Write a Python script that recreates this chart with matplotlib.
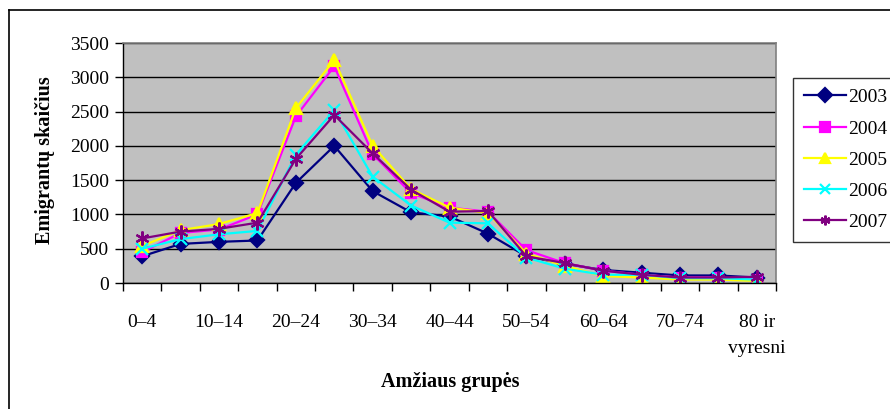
import matplotlib
matplotlib.use("Agg")
import matplotlib.pyplot as plt
from matplotlib.lines import Line2D

plt.rcParams['font.family'] = ['Liberation Serif', 'DejaVu Serif']

age_groups = ['0–4', '5–9', '10–14', '15–19', '20–24', '25–29', '30–34', '35–39',
              '40–44', '45–49', '50–54', '55–59', '60–64', '65–69', '70–74',
              '75–79', '80 ir\nvyresni']

y2003 = [390, 570, 600, 620, 1460, 2000, 1340, 1030, 970, 720, 390, 280, 190, 150, 110, 110, 80]
y2004 = [450, 730, 780, 1000, 2430, 3160, 1880, 1310, 1100, 1040, 480, 290, 180, 120, 80, 80, 50]
y2005 = [540, 770, 860, 1020, 2550, 3250, 2000, 1370, 1100, 1020, 430, 250, 100, 80, 50, 50, 30]
y2006 = [500, 640, 710, 760, 1870, 2520, 1550, 1130, 880, 870, 370, 210, 120, 120, 70, 70, 50]
y2007 = [650, 750, 790, 880, 1810, 2450, 1890, 1360, 1040, 1050, 390, 290, 180, 120, 80, 80, 90]

years = ['2003', '2004', '2005', '2006', '2007']
series = [y2003, y2004, y2005, y2006, y2007]
colors = ['#000080', '#FF00FF', '#FFFF00', '#00FFFF', '#800080']
markers = ['D', 's', '^', 'x', (6, 2, 0)]
msizes = [7, 7, 9, 9, 10]

fig = plt.figure(figsize=(8.9, 4.09), dpi=100)
ax = fig.add_axes([123 / 890, 1 - 283 / 409, 653 / 890, 240 / 409])
ax.set_facecolor('#C0C0C0')

x = list(range(len(age_groups)))
handles = []
for ys, c, m, ms, lab in zip(series, colors, markers, msizes, years):
    h, = ax.plot(x, ys, color=c, marker=m, markersize=ms, linewidth=1.6,
                 markeredgewidth=1.6, label=lab)
    handles.append(h)

ax.set_xlim(-0.5, len(age_groups) - 0.5)
ax.set_ylim(0, 3500)
ax.set_yticks(range(0, 3501, 500))
ax.yaxis.grid(True, color='black', linewidth=1)
ax.set_axisbelow(True)

# ticks between categories, labels on every other category
ax.set_xticks([i - 0.5 for i in range(len(age_groups) + 1)])
ax.set_xticklabels([])
ax.set_xticks(x[::2], minor=True)
ax.set_xticklabels(age_groups[::2], minor=True, fontsize=14, linespacing=1.75,
                   verticalalignment='top')
ax.tick_params(axis='x', which='minor', length=0, pad=22)
ax.tick_params(axis='x', which='major', length=6, direction='out', width=1)
ax.tick_params(axis='y', length=6, direction='out', width=1, labelsize=14, pad=4)

for s in ['top', 'right']:
    ax.spines[s].set_color('#808080')
    ax.spines[s].set_linewidth(1.2)
for s in ['left', 'bottom']:
    ax.spines[s].set_color('black')
    ax.spines[s].set_linewidth(1)

fig.text(45 / 890, 1 - 160 / 409, 'Emigrantų skaičius', rotation=90, fontsize=14.5,
         fontweight='bold', ha='center', va='center')
fig.text(450 / 890, 1 - 382 / 409, 'Amžiaus grupės', fontsize=14.5,
         fontweight='bold', ha='center', va='center')

leg = fig.legend(handles=handles, loc='upper left',
                 bbox_to_anchor=(793 / 890, 1 - 78 / 409), fontsize=14,
                 frameon=True, fancybox=False, edgecolor='black',
                 labelspacing=0.7, handlelength=2.2, handletextpad=0.1,
                 borderpad=0.55, borderaxespad=0)
leg.get_frame().set_linewidth(1)
for lh in leg.legend_handles:
    lh.set_markersize(7)

# outer chart border (top and left visible)
fig.add_artist(Line2D([9 / 890, 9 / 890], [0, 1 - 10 / 409], color='black',
                      linewidth=1.2, transform=fig.transFigure))
fig.add_artist(Line2D([9 / 890, 1], [1 - 10 / 409, 1 - 10 / 409], color='black',
                      linewidth=1.2, transform=fig.transFigure))

fig.savefig('out.png', dpi=100)
